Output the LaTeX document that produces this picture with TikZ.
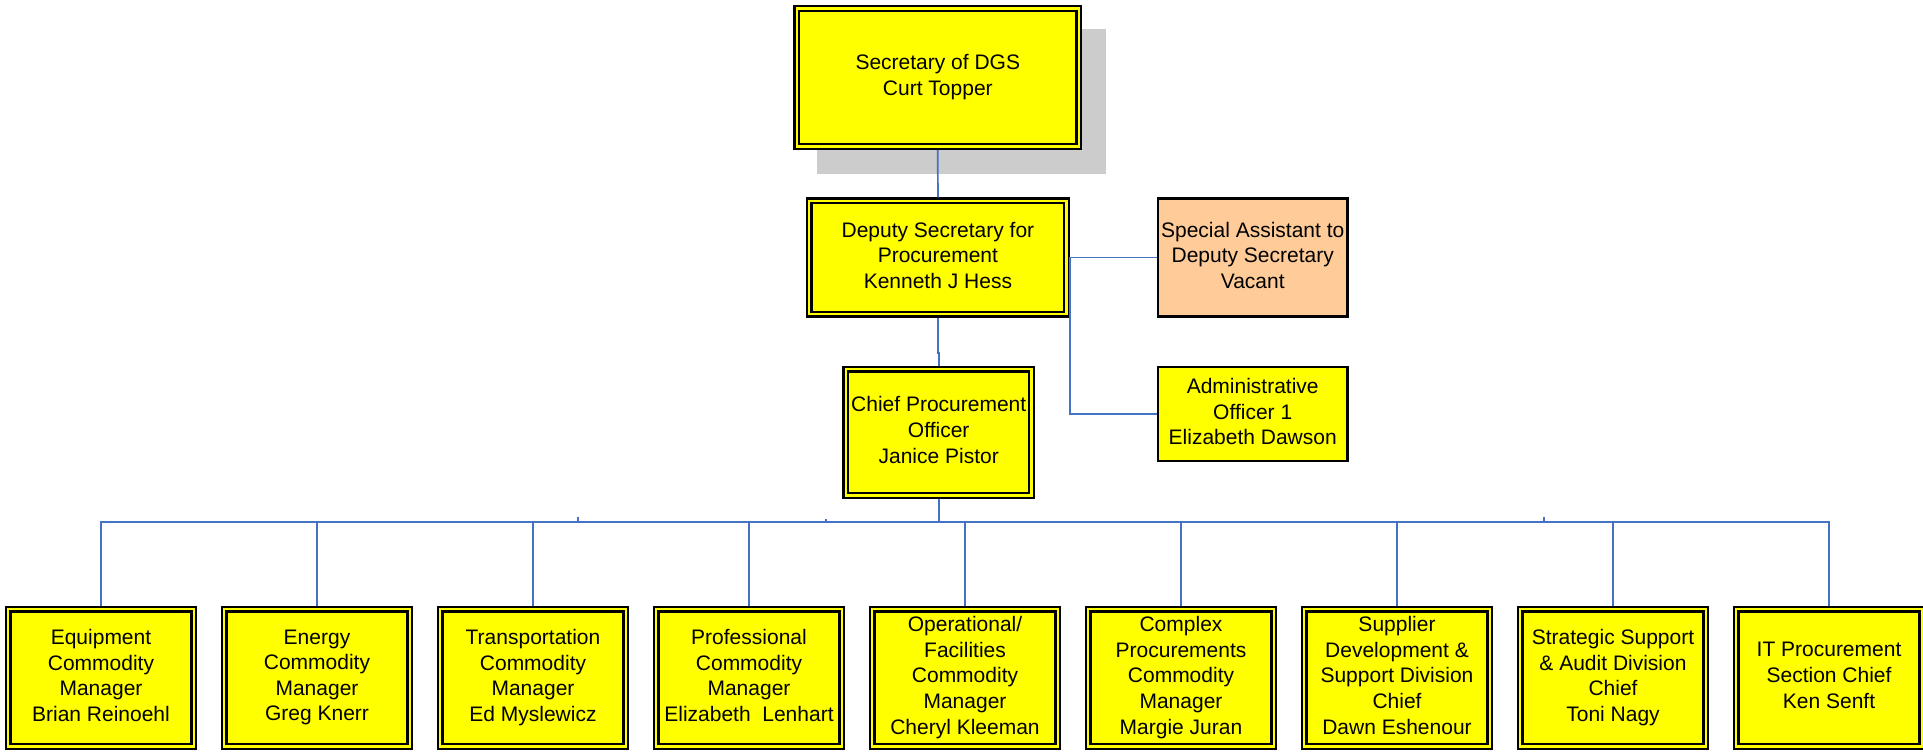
\documentclass[tikz,border=0pt]{standalone}
\usepackage{fontspec}
\setmainfont{Liberation Sans}
\usetikzlibrary{backgrounds}
\definecolor{boxyellow}{HTML}{FFFF00}
\definecolor{peach}{HTML}{FFCC99}
\definecolor{linkblue}{HTML}{4472C4}
\definecolor{shadowgray}{HTML}{CCCCCC}
\newcommand\boxstrut{\rule[-3.7pt]{0pt}{19.2pt}}
\begin{document}
\begin{tikzpicture}[x=0.75pt,y=-0.75pt,
  txt/.style={font=\fontsize{15.75pt}{19.2pt}\selectfont, align=center, inner sep=0pt,
    execute at begin node=\boxstrut, execute at end node=\boxstrut},
  dbox/.style={txt, draw=black, double=boxyellow, line width=1.8pt, double distance=1.65pt, fill=boxyellow, outer sep=2.625pt},
  sbox/.style={txt, draw=black, line width=1.875pt},
  link/.style={draw=linkblue, line width=1.3pt},
  bottombox/.style={dbox, minimum width=139.2pt, minimum height=103pt}]
\useasboundingbox (0,0) rectangle (1923,752);

\node[dbox, minimum width=211.5pt, minimum height=103.5pt] (top) at (937.8,77.5) {Secretary of DGS\\Curt Topper};
\node[dbox, minimum width=193pt, minimum height=85pt] (deputy) at (937.9,257.5) {Deputy Secretary for\\Procurement\\Kenneth J Hess};
\node[sbox, fill=peach, minimum width=142.1pt, minimum height=88.5pt] (special) at (1252.7,257.5) {Special Assistant to\\Deputy Secretary\\Vacant};
\node[sbox, fill=boxyellow, minimum width=142.1pt, minimum height=70.6pt] (admin) at (1252.7,414) {Administrative\\Officer 1\\Elizabeth Dawson};
\node[dbox, minimum width=139.3pt, minimum height=94.7pt] (chief) at (938.7,432.3) {Chief Procurement\\Officer\\Janice Pistor};

\foreach \i/\t in {
  1/{Equipment\\Commodity\\Manager\\Brian Reinoehl},
  2/{Energy\\Commodity\\Manager\\Greg Knerr},
  3/{Transportation\\Commodity\\Manager\\Ed Myslewicz},
  4/{Professional\\Commodity\\Manager\\Elizabeth\ \ Lenhart},
  5/{Operational/\\Facilities\\Commodity\\Manager\\Cheryl Kleeman},
  6/{Complex\\Procurements\\Commodity\\Manager\\Margie Juran},
  7/{Supplier\\Development \&\\Support Division\\Chief\\Dawn Eshenour},
  8/{Strategic Support\\\& Audit Division\\Chief\\Toni Nagy},
  9/{IT Procurement\\Section Chief\\Ken Senft}}{
  \node[bottombox] (b\i) at ({101+216*(\i-1)},677.8) {\t};
}

\begin{scope}[on background layer]
  \fill[shadowgray] ([shift={(24,24)}]top.south west) rectangle ([shift={(24,24)}]top.north east);
\end{scope}

\draw[link] (top.south) -- (deputy.north);
\draw[link] (deputy.south) -- ++(0,35.5) -| (chief.north);
\draw[link] (deputy.east) -- (special.west);
\draw[link] (deputy.east) |- (admin.west);
\draw[link] (chief.south) -- ++(0,22.7) coordinate (bus);
\foreach \i in {1,...,9}{
  \draw[link] (b\i.north) |- (bus);
}
\coordinate (t1) at (577.7,516.7);
\coordinate (t2) at (825.7,519);
\coordinate (t3) at (1544,516.7);
\foreach \t in {t1,t2,t3}{
  \draw[link] (\t) -- (\t |- bus);
}
\end{tikzpicture}
\end{document}
